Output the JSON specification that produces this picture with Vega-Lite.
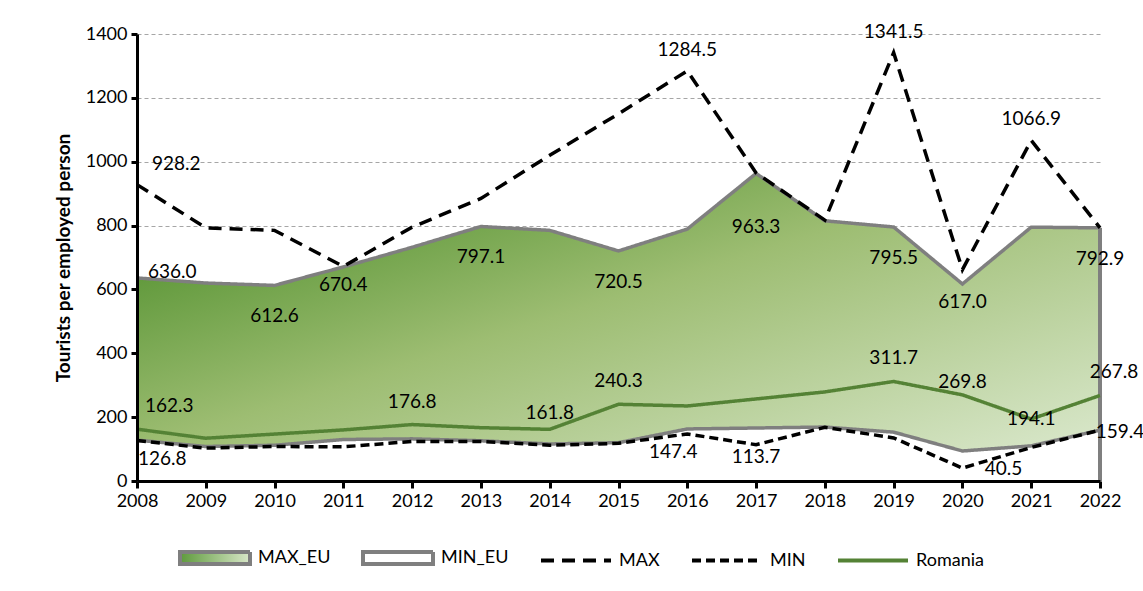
{
  "$schema": "https://vega.github.io/schema/vega-lite/v6.json",
  "width": 963,
  "height": 447,
  "autosize": {"type": "none"},
  "padding": {"left": 137, "top": 34, "right": 43, "bottom": 110},
  "background": "white",
  "config": {
    "view": {"stroke": null},
    "font": "Lato",
    "text": {"font": "Lato", "fontSize": 19, "color": "black"}
  },
  "data": {
    "values": [
      {"year": 2008, "series": "MAX_EU", "value": 636.0, "label": true},
      {"year": 2009, "series": "MAX_EU", "value": 620, "label": false},
      {"year": 2010, "series": "MAX_EU", "value": 612.6, "label": true},
      {"year": 2011, "series": "MAX_EU", "value": 670.4, "label": true},
      {"year": 2012, "series": "MAX_EU", "value": 732, "label": false},
      {"year": 2013, "series": "MAX_EU", "value": 797.1, "label": true},
      {"year": 2014, "series": "MAX_EU", "value": 785, "label": false},
      {"year": 2015, "series": "MAX_EU", "value": 720.5, "label": true},
      {"year": 2016, "series": "MAX_EU", "value": 789, "label": false},
      {"year": 2017, "series": "MAX_EU", "value": 963.3, "label": true},
      {"year": 2018, "series": "MAX_EU", "value": 815, "label": false},
      {"year": 2019, "series": "MAX_EU", "value": 795.5, "label": true},
      {"year": 2020, "series": "MAX_EU", "value": 617.0, "label": true},
      {"year": 2021, "series": "MAX_EU", "value": 795, "label": false},
      {"year": 2022, "series": "MAX_EU", "value": 792.9, "label": true},
      {"year": 2008, "series": "MIN_EU", "value": 128, "label": false},
      {"year": 2009, "series": "MIN_EU", "value": 108, "label": false},
      {"year": 2010, "series": "MIN_EU", "value": 112, "label": false},
      {"year": 2011, "series": "MIN_EU", "value": 130, "label": false},
      {"year": 2012, "series": "MIN_EU", "value": 132, "label": false},
      {"year": 2013, "series": "MIN_EU", "value": 126, "label": false},
      {"year": 2014, "series": "MIN_EU", "value": 116, "label": false},
      {"year": 2015, "series": "MIN_EU", "value": 120, "label": false},
      {"year": 2016, "series": "MIN_EU", "value": 163, "label": false},
      {"year": 2017, "series": "MIN_EU", "value": 166, "label": false},
      {"year": 2018, "series": "MIN_EU", "value": 169, "label": false},
      {"year": 2019, "series": "MIN_EU", "value": 153, "label": false},
      {"year": 2020, "series": "MIN_EU", "value": 94, "label": false},
      {"year": 2021, "series": "MIN_EU", "value": 110, "label": false},
      {"year": 2022, "series": "MIN_EU", "value": 159.4, "label": false},
      {"year": 2008, "series": "MAX", "value": 928.2, "label": true},
      {"year": 2009, "series": "MAX", "value": 793, "label": false},
      {"year": 2010, "series": "MAX", "value": 785, "label": false},
      {"year": 2011, "series": "MAX", "value": 672, "label": false},
      {"year": 2012, "series": "MAX", "value": 795, "label": false},
      {"year": 2013, "series": "MAX", "value": 885, "label": false},
      {"year": 2014, "series": "MAX", "value": 1020, "label": false},
      {"year": 2015, "series": "MAX", "value": 1150, "label": false},
      {"year": 2016, "series": "MAX", "value": 1284.5, "label": true},
      {"year": 2017, "series": "MAX", "value": 965, "label": false},
      {"year": 2018, "series": "MAX", "value": 817, "label": false},
      {"year": 2019, "series": "MAX", "value": 1341.5, "label": true},
      {"year": 2020, "series": "MAX", "value": 662, "label": false},
      {"year": 2021, "series": "MAX", "value": 1066.9, "label": true},
      {"year": 2022, "series": "MAX", "value": 792.9, "label": false},
      {"year": 2008, "series": "MIN", "value": 126.8, "label": true},
      {"year": 2009, "series": "MIN", "value": 103, "label": false},
      {"year": 2010, "series": "MIN", "value": 108, "label": false},
      {"year": 2011, "series": "MIN", "value": 107, "label": false},
      {"year": 2012, "series": "MIN", "value": 124, "label": false},
      {"year": 2013, "series": "MIN", "value": 124, "label": false},
      {"year": 2014, "series": "MIN", "value": 112, "label": false},
      {"year": 2015, "series": "MIN", "value": 118, "label": false},
      {"year": 2016, "series": "MIN", "value": 147.4, "label": true},
      {"year": 2017, "series": "MIN", "value": 113.7, "label": true},
      {"year": 2018, "series": "MIN", "value": 168, "label": false},
      {"year": 2019, "series": "MIN", "value": 135, "label": false},
      {"year": 2020, "series": "MIN", "value": 40.5, "label": true},
      {"year": 2021, "series": "MIN", "value": 105, "label": false},
      {"year": 2022, "series": "MIN", "value": 159.4, "label": true},
      {"year": 2008, "series": "Romania", "value": 162.3, "label": true},
      {"year": 2009, "series": "Romania", "value": 134, "label": false},
      {"year": 2010, "series": "Romania", "value": 147, "label": false},
      {"year": 2011, "series": "Romania", "value": 160, "label": false},
      {"year": 2012, "series": "Romania", "value": 176.8, "label": true},
      {"year": 2013, "series": "Romania", "value": 167, "label": false},
      {"year": 2014, "series": "Romania", "value": 161.8, "label": true},
      {"year": 2015, "series": "Romania", "value": 240.3, "label": true},
      {"year": 2016, "series": "Romania", "value": 235, "label": false},
      {"year": 2017, "series": "Romania", "value": 257, "label": false},
      {"year": 2018, "series": "Romania", "value": 279, "label": false},
      {"year": 2019, "series": "Romania", "value": 311.7, "label": true},
      {"year": 2020, "series": "Romania", "value": 269.8, "label": true},
      {"year": 2021, "series": "Romania", "value": 194.1, "label": true},
      {"year": 2022, "series": "Romania", "value": 267.8, "label": true}
    ]
  },
  "encoding": {
    "x": {
      "field": "year",
      "type": "quantitative",
      "scale": {"domain": [2008, 2022], "nice": false, "zero": false},
      "axis": {
        "values": [2008, 2009, 2010, 2011, 2012, 2013, 2014, 2015, 2016, 2017, 2018, 2019, 2020, 2021, 2022],
        "format": "d",
        "title": null,
        "grid": false,
        "domainColor": "black",
        "domainWidth": 3,
        "tickColor": "black",
        "tickWidth": 3,
        "tickSize": 7,
        "labelFont": "Lato",
        "labelFontSize": 18,
        "labelColor": "black",
        "labelPadding": 4,
        "labelFlush": false,
        "zindex": 1
      }
    },
    "y": {
      "field": "value",
      "type": "quantitative",
      "scale": {"domain": [0, 1400], "nice": false},
      "axis": null
    }
  },
  "layer": [
    {
      "transform": [{"filter": "datum.series == 'MAX_EU'"}],
      "mark": {
        "type": "area",
        "color": {
          "gradient": "linear",
          "x1": 0, "y1": 0, "x2": 1, "y2": 1,
          "stops": [
            {"offset": 0.12, "color": "#589434"},
            {"offset": 0.45, "color": "#9dbd72"},
            {"offset": 1, "color": "#e0ecd5"}
          ]
        }
      },
      "encoding": {
        "y": {
          "field": "value",
          "type": "quantitative",
          "scale": {"domain": [0, 1400], "nice": false},
          "axis": {
            "orient": "right",
            "values": [200, 400, 600, 800, 1000, 1200, 1400],
            "grid": true,
            "gridColor": "#a6a6a6",
            "gridDash": [4, 3],
            "gridWidth": 1,
            "domain": false,
            "ticks": false,
            "labels": false,
            "title": null,
            "zindex": 0
          }
        }
      }
    },
    {
      "transform": [{"filter": "datum.series == 'MIN_EU'"}],
      "mark": {"type": "area", "color": "white"}
    },
    {
      "transform": [{"filter": "datum.series == 'MAX_EU' && datum.year == 2022"}],
      "mark": {"type": "rule", "color": "#7f7f7f", "strokeWidth": 4},
      "encoding": {"y2": {"datum": 0}}
    },
    {
      "mark": {"type": "line", "strokeWidth": 3.5},
      "encoding": {
        "y": {
          "field": "value",
          "type": "quantitative",
          "scale": {"domain": [0, 1400], "nice": false},
          "axis": {
            "orient": "left",
            "values": [0, 200, 400, 600, 800, 1000, 1200, 1400],
            "format": "d",
            "grid": false,
            "title": "Tourists per employed person",
            "titleFont": "Lato",
            "titleFontSize": 19,
            "titleFontWeight": "bold",
            "titleColor": "black",
            "titlePadding": 12,
            "domainColor": "black",
            "domainWidth": 3,
            "tickColor": "black",
            "tickWidth": 3,
            "tickSize": 6,
            "labelFont": "Lato",
            "labelFontSize": 18,
            "labelColor": "black",
            "labelPadding": 4,
            "labelFlush": false,
            "zindex": 1
          }
        },
        "stroke": {
          "field": "series",
          "type": "nominal",
          "sort": null,
          "scale": {
            "domain": ["MAX_EU", "MIN_EU", "MAX", "MIN", "Romania"],
            "range": ["#7f7f7f", "#7f7f7f", "#000000", "#000000", "#548235"]
          },
          "legend": {
            "title": null,
            "orient": "none",
            "legendX": 41,
            "legendY": 487,
            "direction": "horizontal",
            "symbolSize": 4900,
            "labelFont": "Lato",
            "labelFontSize": 18,
            "labelColor": "black",
            "labelOffset": 6,
            "columnPadding": 24,
            "encode": {
              "symbols": {
                "update": {
                  "shape": {"signal": "datum.value == 'MAX_EU' || datum.value == 'MIN_EU' ? 'M-1,-0.17H1V0.17H-1Z' : 'M-1,0H1'"},
                  "fill": {"signal": "datum.value == 'MAX_EU' ? {gradient: 'linear', stops: [{offset: 0, color: '#5e9a3c'}, {offset: 1, color: '#d8e7c8'}]} : datum.value == 'MIN_EU' ? '#ffffff' : 'transparent'"},
                  "stroke": {"signal": "datum.value == 'Romania' ? '#548235' : (datum.value == 'MAX' || datum.value == 'MIN') ? '#000000' : '#7f7f7f'"},
                  "strokeDash": {"signal": "datum.value == 'MAX' ? [17, 10] : datum.value == 'MIN' ? [11, 5] : [1, 0]"},
                  "strokeWidth": {"value": 4},
                  "opacity": {"value": 1}
                }
              }
            }
          }
        },
        "strokeDash": {
          "field": "series",
          "type": "nominal",
          "sort": null,
          "scale": {
            "domain": ["MAX_EU", "MIN_EU", "MAX", "MIN", "Romania"],
            "range": [[1, 0], [1, 0], [13, 8], [9, 5], [1, 0]]
          },
          "legend": null
        }
      }
    },
    {
      "transform": [{"filter": "datum.label && datum.series == 'MAX_EU'"}],
      "mark": {
        "type": "text",
        "align": {"expr": "datum.year == 2008 ? 'left' : 'center'"},
        "dx": {"expr": "datum.year == 2008 ? 11 : 0"},
        "dy": {"expr": "datum.year == 2008 ? -6 : datum.year == 2017 ? 54 : (datum.year == 2011 || datum.year == 2020) ? 18 : 31"}
      },
      "encoding": {"text": {"field": "value", "type": "quantitative", "format": ".1f"}}
    },
    {
      "transform": [{"filter": "datum.label && datum.series == 'MAX'"}],
      "mark": {
        "type": "text",
        "align": {"expr": "datum.year == 2008 ? 'left' : 'center'"},
        "dx": {"expr": "datum.year == 2008 ? 15 : 0"},
        "dy": -21
      },
      "encoding": {"text": {"field": "value", "type": "quantitative", "format": ".1f"}}
    },
    {
      "transform": [{"filter": "datum.label && datum.series == 'MIN'"}],
      "mark": {
        "type": "text",
        "align": {"expr": "datum.year == 2008 ? 'left' : 'center'"},
        "dx": {"expr": "datum.year == 2008 ? 1 : datum.year == 2016 ? -14 : datum.year == 2020 ? 41 : datum.year == 2022 ? 20 : 0"},
        "dy": {"expr": "datum.year == 2020 ? 1 : datum.year == 2022 ? 2 : datum.year == 2017 ? 12 : 18"}
      },
      "encoding": {"text": {"field": "value", "type": "quantitative", "format": ".1f"}}
    },
    {
      "transform": [{"filter": "datum.label && datum.series == 'Romania'"}],
      "mark": {
        "type": "text",
        "align": {"expr": "datum.year == 2008 ? 'left' : 'center'"},
        "dx": {"expr": "datum.year == 2008 ? 8 : datum.year == 2022 ? 14 : 0"},
        "dy": {"expr": "datum.year == 2021 ? 0 : datum.year == 2020 ? -13 : datum.year == 2014 ? -16 : -23"}
      },
      "encoding": {"text": {"field": "value", "type": "quantitative", "format": ".1f"}}
    }
  ],
  "resolve": {"axis": {"y": "independent"}}
}
